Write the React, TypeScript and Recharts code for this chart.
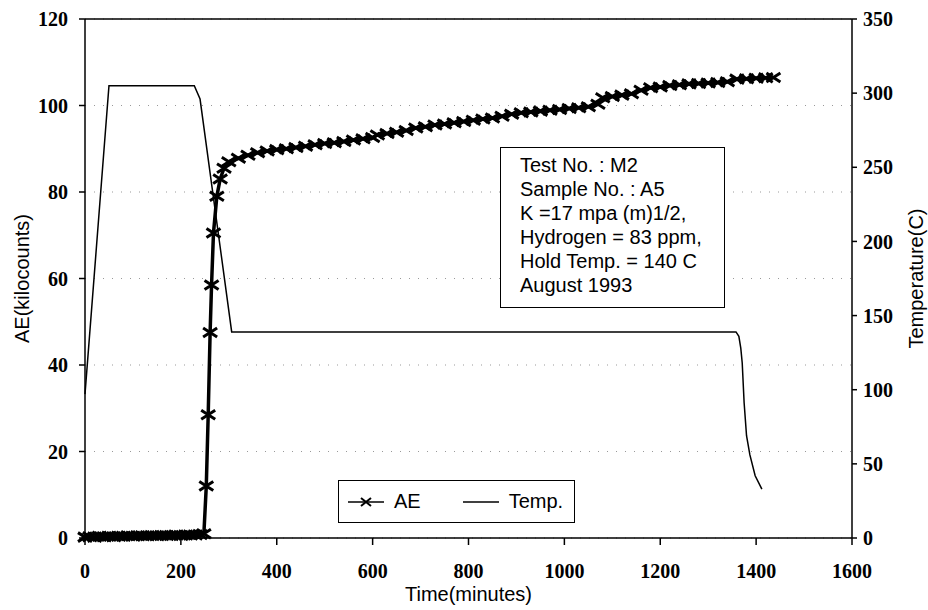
import React from "react"
import { CartesianGrid, Label, Legend, Line, LineChart, ReferenceLine, XAxis, YAxis } from "recharts"

// AE (kilocounts) vs time (minutes)
const aeTimes = [
  0, 10, 20, 30, 40, 50, 60, 70, 80, 90, 100, 110, 120, 130, 140, 150, 160, 170, 180, 190, 200, 210, 220, 230, 240,
  248, 253, 257, 261, 264, 268, 275, 282, 290, 300,
  320, 340, 360, 380, 400, 420, 440, 460, 480, 500, 520, 540, 560, 580, 600,
  610, 630, 650, 670, 690, 710, 730, 750, 770, 790, 810, 830, 850, 870, 890, 910, 930, 950, 970, 990,
  1010, 1030, 1050, 1070, 1080, 1100, 1120, 1140, 1160, 1180, 1200, 1220, 1240, 1260, 1280, 1300,
  1320, 1340, 1360, 1380, 1400, 1420, 1436,
]
const aeCounts = [
  0.2, 0.3, 0.2, 0.4, 0.3, 0.4, 0.3, 0.4, 0.4, 0.5, 0.4, 0.5, 0.5, 0.5, 0.6, 0.5, 0.6, 0.6, 0.6, 0.7, 0.6, 0.7, 0.7, 0.7, 0.8,
  1, 12, 28.5, 47.5, 58.5, 70.5, 79, 83, 85.5, 87,
  87.8, 88.5, 89.1, 89.5, 89.8, 90, 90.3, 90.6, 90.9, 91.2, 91.4, 91.7, 92, 92.3, 92.6,
  93.2, 93.5, 93.8, 94.2, 94.8, 95.1, 95.5, 95.7, 96, 96.3, 96.6, 96.9, 97.1, 97.5, 98, 98.3, 98.5, 98.7, 98.9, 99.1,
  99.3, 99.5, 99.7, 100.3, 101.8, 102.1, 102.4, 102.7, 103.5, 104.1, 104.3, 104.6, 104.8, 105, 105.1, 105.2,
  105.3, 105.5, 106.1, 106.2, 106.3, 106.4, 106.5,
]

// furnace temperature (C)
const tempTimes = [0, 50, 228, 240, 306, 1358, 1364, 1368, 1371, 1375, 1380, 1387, 1398, 1412]
const tempValues = [97, 305, 305, 296, 139, 139, 136, 128, 118, 91, 69, 56, 42, 33]

const timeTicks = [0, 200, 400, 600, 800, 1000, 1200, 1400, 1600]
const aeTicks = [0, 20, 40, 60, 80, 100, 120]
const tempTicks = [0, 50, 100, 150, 200, 250, 300, 350]

const infoLines = [
  "Test No. : M2",
  "Sample No. : A5",
  "K =17 mpa (m)1/2,",
  "Hydrogen = 83 ppm,",
  "Hold Temp. = 140 C",
  "August 1993",
]

const aeData = aeTimes.map((t, i) => ({ t, ae: aeCounts[i] }))
const tempData = tempTimes.map((t, i) => ({ t, temp: tempValues[i] }))

const SANS = "'Liberation Sans', Arial, sans-serif"
const SERIF = "'Liberation Serif', 'Times New Roman', serif"
const tickStyle = { fontFamily: SERIF, fontSize: 20, fill: "#000", fontWeight: 700 }
const titleStyle = { fontFamily: SANS, fontSize: 20, fill: "#000", textAnchor: "middle" as const }

// the scanned AE trace is a dense row of x marks, so draw them wide and heavy
function CrossMark(props: any) {
  const { cx, cy, index } = props
  if (cx == null || cy == null) return null
  return (
    <path
      key={`ae-${index}`}
      d={`M${cx - 7},${cy - 4.5}L${cx + 7},${cy + 4.5}M${cx - 7},${cy + 4.5}L${cx + 7},${cy - 4.5}`}
      stroke="#000"
      strokeWidth={3}
      fill="none"
    />
  )
}

function LegendBox(props: any) {
  const items = props.payload || []
  return (
    <div
      style={{
        boxSizing: "border-box",
        width: 237,
        height: 43,
        border: "1.5px solid #000",
        background: "#fff",
        display: "flex",
        alignItems: "center",
        fontFamily: SANS,
        fontSize: 20,
        color: "#000",
        paddingLeft: 9,
      }}
    >
      {items.map((entry: any) => (
        <div key={entry.value} style={{ display: "flex", alignItems: "center", marginRight: 42 }}>
          <svg width={36} height={14} style={{ marginRight: 10 }}>
            <line x1={0} y1={7} x2={36} y2={7} stroke="#000" strokeWidth={1.5} />
            {entry.value === "AE" && <path d="M13,3L23,11M13,11L23,3" stroke="#000" strokeWidth={2} />}
          </svg>
          <span>{entry.value}</span>
        </div>
      ))}
    </div>
  )
}

export default function App() {
  return (
    <div style={{ position: "absolute", left: 0, top: 0, width: 928, height: 610, background: "#fff" }}>
      <LineChart width={928} height={610} margin={{ top: 19, right: 0, bottom: 0, left: 0 }}>
        <CartesianGrid yAxisId="left" vertical={false} stroke="#999" strokeDasharray="1 8" />
        <XAxis
          dataKey="t"
          type="number"
          domain={[0, 1600]}
          ticks={timeTicks}
          height={72}
          stroke="#000"
          strokeWidth={1.5}
          tickSize={7}
          tickMargin={19}
          tick={tickStyle}
        >
          <Label value="Time(minutes)" position="insideBottom" offset={9} style={titleStyle} />
        </XAxis>
        <YAxis
          yAxisId="left"
          domain={[0, 120]}
          ticks={aeTicks}
          width={85}
          stroke="#000"
          strokeWidth={1.5}
          tickSize={6}
          tickMargin={11}
          tick={tickStyle}
        >
          <Label value="AE(kilocounts)" angle={-90} position="insideLeft" offset={22} style={titleStyle} />
        </YAxis>
        <YAxis
          yAxisId="right"
          orientation="right"
          domain={[0, 350]}
          ticks={tempTicks}
          width={76}
          stroke="#000"
          strokeWidth={1.5}
          tickSize={5}
          tickMargin={6}
          tick={tickStyle}
        >
          <Label value="Temperature(C)" angle={-90} position="insideRight" offset={12} style={titleStyle} />
        </YAxis>
        <ReferenceLine yAxisId="left" y={120} stroke="#000" strokeWidth={1.5} />
        <Line
          data={aeData}
          dataKey="ae"
          name="AE"
          yAxisId="left"
          type="linear"
          stroke="#000"
          strokeWidth={3.5}
          dot={CrossMark}
          activeDot={false}
          isAnimationActive={false}
        />
        <Line
          data={tempData}
          dataKey="temp"
          name="Temp."
          yAxisId="right"
          type="linear"
          stroke="#000"
          strokeWidth={1.5}
          dot={false}
          activeDot={false}
          isAnimationActive={false}
        />
        <Legend
          layout="horizontal"
          verticalAlign="middle"
          align="center"
          content={LegendBox}
          wrapperStyle={{ position: "absolute", left: 338, top: 480, width: 237, height: 43 }}
        />
      </LineChart>
      <div
        style={{
          position: "absolute",
          left: 500,
          top: 147,
          width: 225,
          height: 161,
          boxSizing: "border-box",
          border: "1.5px solid #000",
          background: "#fff",
          padding: "5px 0 0 19px",
          fontFamily: SANS,
          fontSize: 20,
          lineHeight: "24px",
          color: "#000",
        }}
      >
        {infoLines.map((line) => (
          <div key={line}>{line}</div>
        ))}
      </div>
    </div>
  )
}
